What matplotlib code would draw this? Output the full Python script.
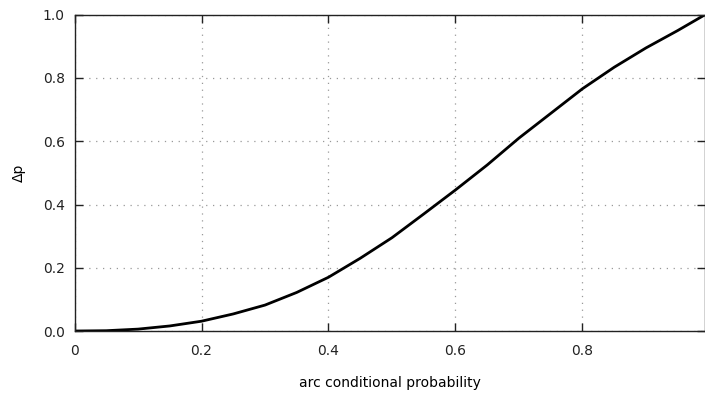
import matplotlib
matplotlib.use("Agg")
import matplotlib.pyplot as plt

plt.rcParams['font.family'] = ['DejaVu Sans']

# values
x_vals = [0, 0.05, 0.1, 0.15, 0.2, 0.25, 0.3, 0.35, 0.4, 0.45, 0.5,
          0.55, 0.6, 0.65, 0.7, 0.75, 0.8, 0.85, 0.9, 0.95, 0.993]
dp_vals = [0, 0.001, 0.006, 0.016, 0.031, 0.054, 0.082, 0.122, 0.17, 0.23, 0.295,
           0.37, 0.446, 0.525, 0.61, 0.688, 0.766, 0.834, 0.895, 0.95, 1.0]

x_ticks = [0, 0.2, 0.4, 0.6, 0.8]
x_tick_labels = ["0", "0.2", "0.4", "0.6", "0.8"]
y_ticks = [0.0, 0.2, 0.4, 0.6, 0.8, 1.0]
y_tick_labels = ["0.0", "0.2", "0.4", "0.6", "0.8", "1.0"]

fig = plt.figure(figsize=(7.05, 3.98), dpi=100)
ax = fig.add_axes([0.1057, 0.1683, 0.8943, 0.7947])

ax.plot(x_vals, dp_vals, color='black', linewidth=2.0, solid_joinstyle='round')

ax.set_xlim(0, 0.993)
ax.set_ylim(0, 1.0)
ax.set_xticks(x_ticks)
ax.set_xticklabels(x_tick_labels)
ax.set_yticks(y_ticks)
ax.set_yticklabels(y_tick_labels)

ax.tick_params(direction='in', length=6, width=1, top=True, right=True,
               labelsize=10, colors='#222222')
ax.tick_params(axis='x', pad=9)
ax.tick_params(axis='y', pad=7)

for s in ax.spines.values():
    s.set_linewidth(1.0)
    s.set_color('#222222')

ax.grid(True, linestyle=(0, (1, 4.5)), color='#999999', linewidth=0.9)
ax.set_axisbelow(True)

ax.set_xlabel("arc conditional probability", fontsize=10, labelpad=13)
ax.set_ylabel("Δp", fontsize=10, labelpad=12)

fig.savefig("out.png", dpi=100)
